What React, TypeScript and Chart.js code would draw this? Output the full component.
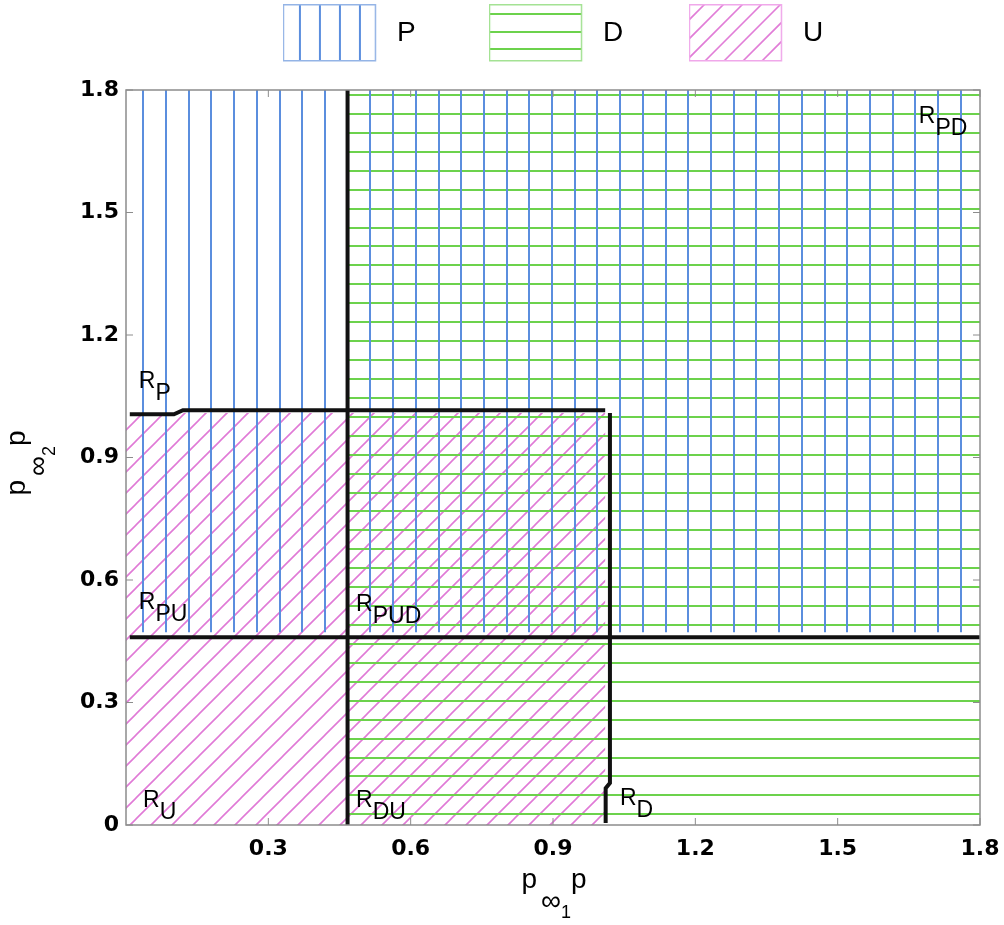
import React, { useEffect, useRef } from 'react';
import { Chart, registerables } from 'chart.js';

Chart.register(...registerables);

// ---------- data ----------
const xTickValues = [0.3, 0.6, 0.9, 1.2, 1.5, 1.8];
const xTickLabels = ['0.3', '0.6', '0.9', '1.2', '1.5', '1.8'];
const yTickValues = [0, 0.3, 0.6, 0.9, 1.2, 1.5, 1.8];
const yTickLabels = ['0', '0.3', '0.6', '0.9', '1.2', '1.5', '1.8'];

const seriesNames = ['P', 'D', 'U'];

// hatched regions (polygons in data units)
const regionPX = [0, 1.8, 1.8, 0];
const regionPY = [0.472, 0.472, 1.8, 1.8];
const regionDX = [0.467, 1.8, 1.8, 0.467];
const regionDY = [0, 0, 1.8, 1.8];
const regionUX = [0, 1.01, 1.01, 0];
const regionUY = [0, 0, 1.009, 1.009];

// black boundary curves
const boundaryUTopX = [0.008, 0.101, 0.12, 1.01];
const boundaryUTopY = [1.006, 1.006, 1.016, 1.016];
const boundaryURightX = [1.02, 1.02, 1.011, 1.011];
const boundaryURightY = [1.009, 0.103, 0.09, 0.005];
const boundaryDLeftX = [0.467, 0.467];
const boundaryDLeftY = [0, 1.8];
const boundaryPBottomX = [0.008, 1.8];
const boundaryPBottomY = [0.46, 0.46];

// region labels: R with subscript
const regionLabelSubs = ['P', 'PU', 'PUD', 'U', 'DU', 'D', 'PD'];
const regionLabelX = [0.027, 0.027, 0.485, 0.036, 0.485, 1.041, 1.671];
const regionLabelY = [1.07, 0.53, 0.524, 0.045, 0.045, 0.049, 1.72];

// axis titles (main, subscript, sub-subscript, main)
const xTitleParts = ['p', '\u221E', '1', 'p'];
const yTitleParts = ['p', '\u221E', '2', 'p'];

// ---------- styles ----------
const BLUE = '#5b8ede';
const GREEN = '#6cd24c';
const PINK = '#e07ad6';
const BLUE_LIGHT = '#94b4e6';
const GREEN_LIGHT = '#a4e294';
const PINK_LIGHT = '#f0a8ea';
const SANS = '"Liberation Sans", Arial, sans-serif';

const toPoints = (xs: number[], ys: number[]) => xs.map((x, i) => ({ x, y: ys[i] }));

function verticalHatch(chart: any) {
  const a = chart.chartArea;
  if (!a) return 'rgba(0,0,0,0)';
  const c = document.createElement('canvas');
  c.width = chart.width;
  c.height = 4;
  const g = c.getContext('2d')!;
  g.fillStyle = BLUE;
  for (let x = a.left + 17.3; x < a.right; x += 22.71) g.fillRect(Math.round(x) - 1, 0, 2, 4);
  return g.createPattern(c, 'repeat');
}

function horizontalHatch(chart: any) {
  const a = chart.chartArea;
  if (!a) return 'rgba(0,0,0,0)';
  const c = document.createElement('canvas');
  c.width = 4;
  c.height = chart.height;
  const g = c.getContext('2d')!;
  g.fillStyle = GREEN;
  for (let y = a.top + 5; y < a.bottom; y += 18.93) g.fillRect(0, Math.round(y) - 1, 4, 2);
  return g.createPattern(c, 'repeat');
}

function diagonalHatch(chart: any) {
  const a = chart.chartArea;
  if (!a) return 'rgba(0,0,0,0)';
  const s = 21;
  const c = document.createElement('canvas');
  c.width = s;
  c.height = s;
  const g = c.getContext('2d')!;
  g.strokeStyle = PINK;
  g.lineWidth = 1.6;
  g.beginPath();
  g.moveTo(0, s); g.lineTo(s, 0);
  g.moveTo(-2, 2); g.lineTo(2, -2);
  g.moveTo(s - 2, s + 2); g.lineTo(s + 2, s - 2);
  g.stroke();
  const p = g.createPattern(c, 'repeat')!;
  const off = (((a.left + a.bottom - 38) % s) + s) % s;
  p.setTransform(new DOMMatrix([1, 0, 0, 1, off, 0]));
  return p;
}

function legendSwatch(kind: string): HTMLCanvasElement {
  const c = document.createElement('canvas');
  c.width = 100;
  c.height = 58;
  const g = c.getContext('2d')!;
  const bx = 0.5, by = 0.5, bw = 92, bh = 56;
  g.save();
  g.beginPath();
  g.rect(bx, by, bw, bh);
  g.clip();
  g.beginPath();
  if (kind === 'P') {
    g.strokeStyle = BLUE; g.lineWidth = 2;
    [16.7, 36.7, 56.3, 76].forEach((o) => { const x = Math.round(bx + o); g.moveTo(x, by); g.lineTo(x, by + bh); });
  } else if (kind === 'D') {
    g.strokeStyle = GREEN; g.lineWidth = 2;
    [9.3, 27, 44.3].forEach((o) => { const y = Math.round(by + o); g.moveTo(bx, y); g.lineTo(bx + bw, y); });
  } else {
    g.strokeStyle = PINK; g.lineWidth = 1.6;
    for (let k = -60; k < bw + bh; k += 19) { g.moveTo(bx + k, by + bh); g.lineTo(bx + k + bh, by); }
  }
  g.stroke();
  g.restore();
  g.strokeStyle = kind === 'P' ? BLUE_LIGHT : kind === 'D' ? GREEN_LIGHT : PINK_LIGHT;
  g.lineWidth = 1.5;
  g.strokeRect(bx, by + 0.25, bw, bh);
  return c;
}

function drawComposite(ctx: CanvasRenderingContext2D, parts: string[], cx: number, baseline: number) {
  const sizes = [28, 28, 18, 28];
  const dys = [0, 22, 30, 0];
  const gaps = [0, 4, 0, 0];
  const widths = parts.map((t, i) => { ctx.font = `${sizes[i]}px ${SANS}`; return ctx.measureText(t).width; });
  const total = widths.reduce((s, w, i) => s + w + gaps[i], 0);
  let x = cx - total / 2;
  parts.forEach((t, i) => {
    x += gaps[i];
    ctx.font = `${sizes[i]}px ${SANS}`;
    ctx.fillText(t, x, baseline + dys[i]);
    x += widths[i];
  });
}

const legendHeightPlugin = {
  id: 'legendHeight',
  beforeInit(chart: any) {
    const lg = chart.legend;
    if (!lg) return;
    const orig = lg.fit;
    lg.fit = function () { orig.call(this); this.height = 90; };
  },
};

const framePlugin = {
  id: 'frameTicks',
  afterDatasetsDraw(chart: any) {
    const { ctx, chartArea: a, scales } = chart;
    ctx.save();
    ctx.strokeStyle = '#8c8c8c';
    ctx.lineWidth = 1.5;
    ctx.strokeRect(a.left, a.top, a.right - a.left, a.bottom - a.top);
    ctx.beginPath();
    scales.x.ticks.forEach((t: any) => {
      const px = scales.x.getPixelForValue(t.value);
      ctx.moveTo(px, a.bottom); ctx.lineTo(px, a.bottom - 7);
      ctx.moveTo(px, a.top); ctx.lineTo(px, a.top + 7);
    });
    scales.y.ticks.forEach((t: any) => {
      const py = scales.y.getPixelForValue(t.value);
      ctx.moveTo(a.left, py); ctx.lineTo(a.left + 7, py);
      ctx.moveTo(a.right, py); ctx.lineTo(a.right - 7, py);
    });
    ctx.lineWidth = 1;
    ctx.stroke();
    ctx.restore();
  },
};

const labelsPlugin = {
  id: 'regionAndAxisLabels',
  afterDraw(chart: any) {
    const { ctx, chartArea: a, scales } = chart;
    ctx.save();
    ctx.fillStyle = '#000';
    ctx.textAlign = 'left';
    ctx.textBaseline = 'alphabetic';
    ctx.font = `23px ${SANS}`;
    const rw = ctx.measureText('R').width;
    regionLabelSubs.forEach((sub, i) => {
      const px = scales.x.getPixelForValue(regionLabelX[i]);
      const py = scales.y.getPixelForValue(regionLabelY[i]);
      ctx.fillText('R', px, py);
      ctx.fillText(sub, px + rw, py + 12);
    });
    // x axis title
    drawComposite(ctx, xTitleParts, (a.left + a.right) / 2 + 1, a.bottom + 63);
    // y axis title
    ctx.save();
    ctx.translate(a.left - 101, (a.top + a.bottom) / 2 + 5.5);
    ctx.rotate(-Math.PI / 2);
    drawComposite(ctx, yTitleParts, 0, 0);
    ctx.restore();
    ctx.restore();
  },
};

export default function App() {
  const ref = useRef<HTMLCanvasElement>(null);

  useEffect(() => {
    const canvas = ref.current;
    if (!canvas) return;
    const legendTexts = [seriesNames[0] + '       ', seriesNames[1] + '      ', seriesNames[2]];
    const legendItems = seriesNames.map((name, i) => ({
      text: legendTexts[i],
      pointStyle: legendSwatch(name),
      fillStyle: 'rgba(0,0,0,0)',
      strokeStyle: 'rgba(0,0,0,0)',
      lineWidth: 0,
      hidden: false,
      datasetIndex: i,
    }));

    const hatch = (data: any[], label: string, bg: (c: any) => any) => ({
      label,
      data,
      showLine: true,
      fill: 'shape',
      borderWidth: 0,
      borderColor: 'rgba(0,0,0,0)',
      pointRadius: 0,
      backgroundColor: (c: any) => bg(c.chart),
    });
    const boundary = (data: any[]) => ({
      label: 'boundary',
      data,
      showLine: true,
      fill: false,
      borderColor: '#111',
      borderWidth: 4,
      pointRadius: 0,
      tension: 0,
    });

    const tickFont = { family: '"DejaVu Sans"', size: 22, weight: 'bold' };

    const chart = new Chart(canvas, {
      type: 'scatter',
      data: {
        datasets: [
          hatch(toPoints(regionPX, regionPY), seriesNames[0], verticalHatch),
          hatch(toPoints(regionDX, regionDY), seriesNames[1], horizontalHatch),
          hatch(toPoints(regionUX, regionUY), seriesNames[2], diagonalHatch),
          boundary(toPoints(boundaryUTopX, boundaryUTopY)),
          boundary(toPoints(boundaryURightX, boundaryURightY)),
          boundary(toPoints(boundaryDLeftX, boundaryDLeftY)),
          boundary(toPoints(boundaryPBottomX, boundaryPBottomY)),
        ] as any,
      },
      options: {
        responsive: false,
        animation: false,
        events: [],
        devicePixelRatio: 1,
        layout: { padding: { top: 0, left: 0, bottom: 0, right: 24 } },
        scales: {
          x: {
            type: 'linear',
            min: 0,
            max: 1.8,
            afterBuildTicks: (s: any) => { s.ticks = xTickValues.map((v) => ({ value: v })); },
            afterFit: (s: any) => { s.height = 100; s.paddingLeft = 0; s.paddingRight = 0; },
            grid: { display: false, drawTicks: false },
            border: { display: false },
            ticks: {
              padding: 11,
              autoSkip: false,
              maxRotation: 0,
              color: '#000',
              font: tickFont,
              callback: (_v: any, i: number) => xTickLabels[i],
            },
          },
          y: {
            type: 'linear',
            min: 0,
            max: 1.8,
            afterBuildTicks: (s: any) => { s.ticks = yTickValues.map((v) => ({ value: v })); },
            afterFit: (s: any) => { s.width = 126; s.paddingTop = 0; s.paddingBottom = 0; },
            grid: { display: false, drawTicks: false },
            border: { display: false },
            ticks: {
              padding: 7,
              autoSkip: false,
              color: '#000',
              font: tickFont,
              callback: (_v: any, i: number) => yTickLabels[i],
            },
          },
        },
        plugins: {
          tooltip: { enabled: false },
          title: { display: false },
          filler: { drawTime: 'beforeDatasetsDraw' },
          legend: {
            display: true,
            position: 'top',
            fullSize: false,
            labels: {
              usePointStyle: true,
              pointStyleWidth: 100,
              padding: 19,
              color: '#000',
              font: { family: SANS, size: 28 },
              generateLabels: () => legendItems as any,
            },
          },
        },
      } as any,
      plugins: [legendHeightPlugin, framePlugin, labelsPlugin],
    });
    return () => chart.destroy();
  }, []);

  return (
    <div style={{ position: 'absolute', left: 0, top: 0, width: 1004, height: 925, background: '#fff' }}>
      <canvas ref={ref} width={1004} height={925} style={{ display: 'block', width: 1004, height: 925 }} />
    </div>
  );
}
